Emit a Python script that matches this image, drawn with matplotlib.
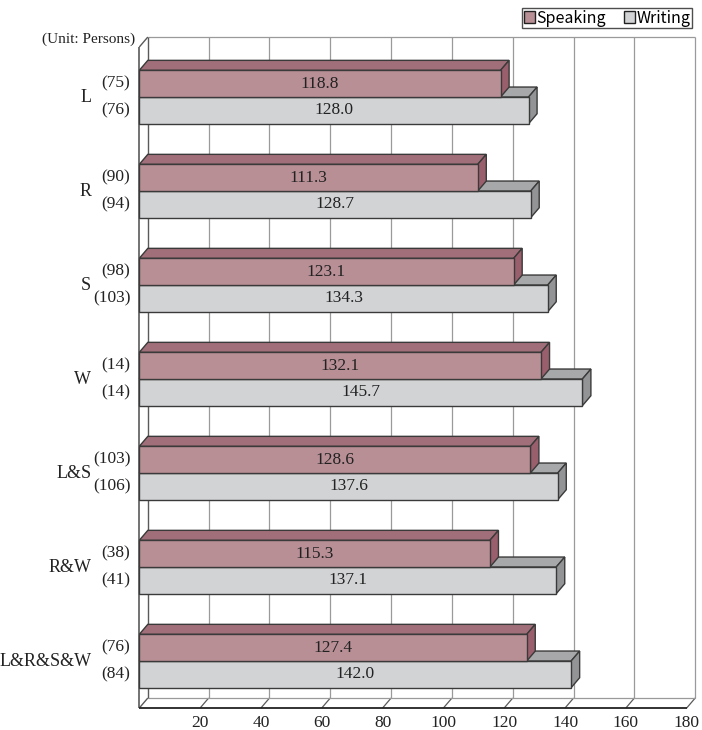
import matplotlib.pyplot as plt
from matplotlib.patches import Polygon, Patch

# Data
categories = ["L", "R", "S", "W", "L&S", "R&W", "L&R&S&W"]
speaking = [118.8, 111.3, 123.1, 132.1, 128.6, 115.3, 127.4]
writing = [128.0, 128.7, 134.3, 145.7, 137.6, 137.1, 142.0]
speaking_n = [75, 90, 98, 14, 103, 38, 76]
writing_n = [76, 94, 103, 14, 106, 41, 84]
ticks = [20, 40, 60, 80, 100, 120, 140, 160, 180]

# Styling / geometry
SPK_FRONT, SPK_TOP, SPK_SIDE = "#b98f96", "#a06f79", "#9a5f6c"
WRT_FRONT, WRT_TOP, WRT_SIDE = "#d2d3d5", "#a7a8aa", "#939496"
EDGE = "#3a3a3a"
GRID = "#9a9a9a"
WALL = "#5a5a5a"
SERIF = "Liberation Serif"

H = 0.284        # bar thickness (slot units)
DX = 2.8         # depth offset, x (value units)
DY = 0.106       # depth offset, y (slot units)
XMAX = 180
YTOP, YBOT = -0.532, 6.5

fig = plt.figure(figsize=(7.02, 7.30), dpi=100)
ax = fig.add_axes([139.3 / 702, 22 / 730, 547.4 / 702, 661 / 730])
ax.set_xlim(0, XMAX)
ax.set_ylim(YBOT, YTOP)
ax.axis("off")


def poly(pts, fc, ec=EDGE, lw=1.0, z=3):
    ax.add_patch(Polygon(pts, closed=True, facecolor=fc, edgecolor=ec,
                         linewidth=lw, zorder=z, clip_on=False, joinstyle="miter"))


def line(xs, ys, color, lw=1.0, z=1):
    ax.plot(xs, ys, color=color, linewidth=lw, zorder=z, clip_on=False,
            solid_capstyle="butt")


# ── Walls & grid ───────────────────────────────────────────────
for t in ticks:
    line([t + DX, t + DX], [YTOP - DY, YBOT - DY], GRID, 0.9)
    line([t, t + DX], [YBOT, YBOT - DY], WALL, 0.9)
line([DX, XMAX + DX], [YTOP - DY, YTOP - DY], GRID, 0.9)
line([DX, XMAX + DX], [YBOT - DY, YBOT - DY], GRID, 0.9)
line([DX, DX], [YTOP - DY, YBOT - DY], WALL, 1.0)
line([0, 0], [YTOP, YBOT], WALL, 1.2, z=2)
line([0, DX], [YTOP, YTOP - DY], WALL, 1.0)
line([0, DX], [YBOT, YBOT - DY], WALL, 1.0)
line([0, XMAX], [YBOT, YBOT], "#222222", 1.3, z=2)

# ── Bars ───────────────────────────────────────────────────────
for i, (s, w) in enumerate(zip(speaking, writing)):
    # writing (lower) bar
    poly([(0, i), (w, i), (w + DX, i - DY), (DX, i - DY)], WRT_TOP)
    poly([(w, i), (w + DX, i - DY), (w + DX, i + H - DY), (w, i + H)], WRT_SIDE)
    poly([(0, i), (w, i), (w, i + H), (0, i + H)], WRT_FRONT)
    # speaking (upper) bar
    y0 = i - H
    poly([(0, y0), (s, y0), (s + DX, y0 - DY), (DX, y0 - DY)], SPK_TOP, z=4)
    poly([(s, y0), (s + DX, y0 - DY), (s + DX, i - DY), (s, i)], SPK_SIDE, z=4)
    poly([(0, y0), (s, y0), (s, i), (0, i)], SPK_FRONT, z=4)

    ax.text(s / 2, i - H / 2, f"{s:.1f}", ha="center", va="center",
            family=SERIF, fontsize=12.5, color="#222222", zorder=6)
    ax.text(w / 2, i + H / 2, f"{w:.1f}", ha="center", va="center",
            family=SERIF, fontsize=12.5, color="#222222", zorder=6)

    ax.annotate(f"({speaking_n[i]})", (0, i - H / 2), xytext=(-9, 0),
                textcoords="offset pixels", ha="right", va="center",
                family=SERIF, fontsize=12.5, color="#222222", annotation_clip=False)
    ax.annotate(f"({writing_n[i]})", (0, i + H / 2), xytext=(-9, 0),
                textcoords="offset pixels", ha="right", va="center",
                family=SERIF, fontsize=12.5, color="#222222", annotation_clip=False)
    ax.annotate(categories[i], (0, i), xytext=(-48, 0),
                textcoords="offset pixels", ha="right", va="center",
                family=SERIF, fontsize=13, color="#222222", annotation_clip=False)

# ── Axis labels ────────────────────────────────────────────────
for t in ticks:
    ax.annotate(str(t), (t, YBOT), xytext=(0, -15), textcoords="offset pixels",
                ha="center", va="center", family=SERIF, fontsize=12.5,
                color="#222222", annotation_clip=False)

ax.annotate("(Unit: Persons)", (0, YTOP - DY), xytext=(-4, -2),
            textcoords="offset pixels", ha="right", va="center",
            family=SERIF, fontsize=11, color="#222222", annotation_clip=False)

# ── Legend ─────────────────────────────────────────────────────
handles = [Patch(facecolor=SPK_FRONT, edgecolor="#222222", label="Speaking"),
           Patch(facecolor=WRT_FRONT, edgecolor="#222222", label="Writing")]
leg = fig.legend(handles=handles, loc="upper right", ncol=2,
                 bbox_to_anchor=(692 / 702, 1 - 8 / 730),
                 frameon=True, fancybox=False, edgecolor="#222222",
                 borderpad=0.1, handlelength=0.7, handleheight=0.7,
                 handletextpad=0.1, columnspacing=1.1, borderaxespad=0,
                 prop={"family": ["Noto Sans CJK JP", "DejaVu Sans"], "size": 11.5})
leg.get_frame().set_linewidth(1.0)

fig.savefig("out.png", dpi=100)
